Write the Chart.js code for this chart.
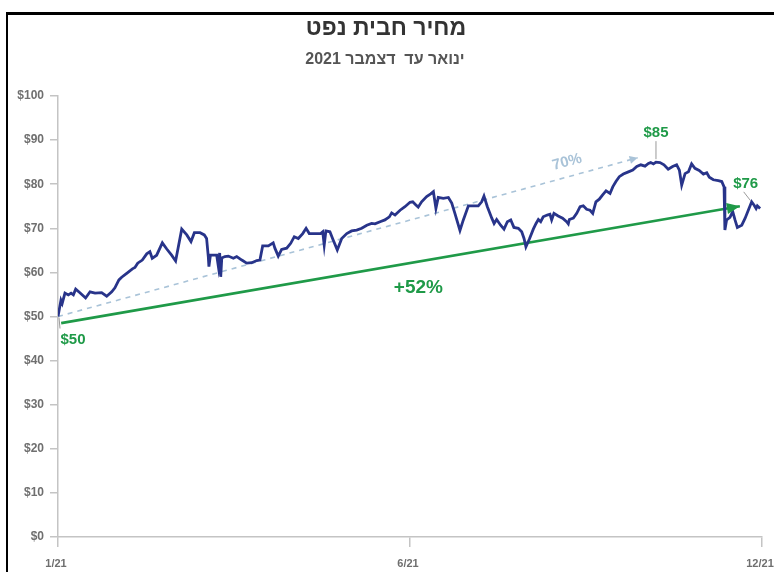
<!DOCTYPE html>
<html lang="he">
<head>
<meta charset="utf-8">
<title>מחיר חבית נפט</title>
<script src="https://cdn.jsdelivr.net/npm/chart.js@4.4.1/dist/chart.umd.min.js"></script>
<style>
	html, body { margin: 0; padding: 0; background: #fff; overflow: hidden; }
	#wrap { position: relative; width: 774px; height: 572px; }
	#wrap canvas { position: absolute; left: 0; top: 0; }
	/* black frame, top and left edges only */
	#frame { position: absolute; left: 6px; top: 12px; right: -10px; bottom: -10px;
		border-top: 3px solid #000; border-left: 2px solid #000; pointer-events: none; }
</style>
</head>
<body>
<div id="wrap">
	<canvas id="oilChart" width="774" height="572"></canvas>
	<div id="frame"></div>
</div>
<script>
var titleText = 'מחיר חבית נפט';
var subtitleText = 'ינואר עד  דצמבר 2021';

// days since 1/1/21, price per barrel ($)
var days = [
	0, 1.4, 2.0, 3.3, 4.9, 6.2, 7.3, 8.4, 10.4, 13.1,
	15.2, 17.6, 20.7, 23.1, 25.5, 27.0, 28.9, 30.2, 32.6, 35.3,
	36.5, 37.8, 40.0, 42.1, 43.6, 44.7, 46.8, 49.5, 51.6, 53.9,
	55.8, 57.1, 58.7, 61.1, 63.1, 64.7, 67.4, 69.4, 70.5, 71.3,
	71.6, 72.3, 75.3, 76.1, 76.7, 77.2, 77.7, 79.2, 80.8, 83.2,
	84.8, 87.2, 89.5, 91.9, 94.3, 95.8, 97.1, 99.8, 102.1, 102.9,
	104.5, 106.1, 108.5, 110.4, 112.1, 114.0, 116.1, 117.7, 119.2, 121.9,
	124.6, 125.6, 126.3, 127.1, 129.0, 130.6, 132.5, 134.6, 137.0, 139.3,
	141.7, 144.1, 146.5, 148.8, 150.4, 152.8, 155.1, 157.2, 158.3, 159.9,
	162.3, 164.6, 167.0, 168.3, 169.8,
	170.9, 172.5, 174.9, 176.8, 178.1, 179.3, 180.4, 182.8, 185.2, 186.8,
	188.3, 190.7, 192.3, 194.7, 197.0, 199.4, 201.0, 202.1, 203.7, 205.8,
	206.9, 208.1, 210.0, 211.6, 213.2, 214.8, 216.3, 218.4, 220.0, 221.1,
	222.0, 223.6, 225.5, 226.8, 227.9, 229.0, 230.2, 232.1, 233.4, 234.2,
	235.3, 237.3, 239.4, 241.3, 242.1, 242.6, 244.5, 246.1, 247.7, 249.2,
	250.8, 252.4,
	253.7, 255.2, 256.8, 258.4, 260.0, 261.9, 263.2, 264.7, 266.3, 268.2,
	270.6, 272.7, 274.6, 276.5, 278.5, 280.1, 281.2, 282.5, 283.7, 285.6,
	287.5, 289.5, 291.6, 293.5, 294.8, 295.9, 297.5, 299.1, 300.6, 302.2,
	304.2, 306.2, 307.8, 309.0, 310.9, 313.3, 314.9, 316.0, 316.4, 317.2,
	318.8, 320.1, 321.2, 322.3, 324.4, 326.0, 327.5, 329.1, 330.2, 331.2,
	331.8, 333.1
];
var prices = [
	50.0, 53.7, 53.0, 55.3, 54.9, 55.3, 54.9, 56.2, 55.4, 54.2,
	55.6, 55.3, 55.4, 54.6, 55.6, 56.5, 58.3, 58.9, 59.8, 60.8,
	61.1, 62.1, 62.8, 64.2, 64.7, 63.2, 63.9, 66.7, 65.3, 63.9,
	62.6, 65.8, 69.8, 68.5, 67.0, 69.0, 69.0, 68.5, 67.7, 63.6,
	61.3, 63.9, 63.9, 61.3, 64.4, 59.0, 63.3, 63.6, 63.7, 63.2,
	63.6, 62.8, 62.1, 62.2, 62.7, 62.8, 66.0, 66.0, 66.7, 65.5,
	63.7, 65.2, 65.5, 66.6, 68.1, 67.7, 68.8, 70.0, 68.8, 68.8,
	68.8, 69.2, 66.2, 69.4, 69.2, 67.3, 65.1, 67.7, 68.8, 69.4,
	69.6, 70.0, 70.7, 71.1, 71.0, 71.5, 71.9, 72.6, 73.5, 73.0,
	74.1, 74.9, 75.9, 76.0, 75.3,
	74.8, 76.0, 77.2, 77.8, 78.3, 74.5, 77.0, 76.8, 77.0, 75.7,
	73.4, 69.5, 71.9, 75.1, 75.1, 75.1, 76.0, 77.3, 74.9, 72.3,
	71.1, 72.0, 70.7, 69.8, 71.5, 71.9, 70.2, 70.0, 69.2, 67.7,
	65.8, 67.5, 69.8, 71.1, 72.0, 71.5, 72.6, 73.0, 73.2, 71.9,
	73.4, 72.8, 72.3, 71.5, 71.0, 72.0, 72.3, 73.4, 74.9, 75.1,
	74.3, 74.1,
	73.4, 76.0, 76.6, 77.6, 78.5, 77.9, 79.4, 80.6, 81.7, 82.3,
	82.8, 83.2, 84.0, 84.4, 84.1, 84.7, 84.9, 84.6, 85.0, 84.9,
	84.4, 83.4, 84.0, 84.4, 83.2, 79.8, 82.4, 82.8, 84.6, 83.6,
	83.1, 82.3, 82.6, 81.6, 81.0, 80.8, 80.6, 79.4, 69.6, 71.9,
	72.5, 73.8, 71.9, 70.2, 70.7, 72.3, 74.1, 76.0, 75.3, 74.5,
	75.1, 74.5
];

var xTickDays = [0, 167, 334];
var xTickLabels = ['1/21', '6/21', '12/21'];

// 50 -> 85 run (dashed) and 50 -> 76 overall change (green)
var peakRunDays = [0, 275];
var peakRunPrices = [50, 86];
var yearChangeDays = [1.5, 323.5];
var yearChangePrices = [48.5, 75];
var changeLabels = ['70%', '+52%'];

// price callouts
var calloutLabels = ['$50', '$85', '$76'];
var calloutDays = [0, 283.7, 329.1];
var calloutPrices = [50, 85, 76];

var GREEN = '#1f9a48';
var NAVY = '#28348a';
var PALE = '#a9c3d8';
var AXIS = '#c4c4c4';
var TEXT = '#6f6f6f';
var FONT = "'Liberation Sans', Arial, sans-serif";

function toXY(xs, ys) {
	return xs.map(function(x, i) { return { x: x, y: ys[i] }; });
}

function drawArrowHead(ctx, meta, color, len, half) {
	var pts = meta.data;
	var a = pts[pts.length - 2], b = pts[pts.length - 1];
	var ang = Math.atan2(b.y - a.y, b.x - a.x);
	ctx.save();
	ctx.translate(b.x, b.y);
	ctx.rotate(ang);
	ctx.fillStyle = color;
	ctx.beginPath();
	ctx.moveTo(0, 0);
	ctx.lineTo(-len, -half);
	ctx.lineTo(-len, half);
	ctx.closePath();
	ctx.fill();
	ctx.restore();
}

var annotations = {
	id: 'oilAnnotations',
	afterDatasetsDraw: function(chart) {
		var ctx = chart.ctx;
		var xs = chart.scales.x, ys = chart.scales.y;
		drawArrowHead(ctx, chart.getDatasetMeta(2), PALE, 8, 4);
		drawArrowHead(ctx, chart.getDatasetMeta(1), GREEN, 13, 5.5);

		ctx.save();
		// "70%" sits above the dashed run, turned to its slope
		var d = chart.getDatasetMeta(2).data;
		var ang = Math.atan2(d[1].y - d[0].y, d[1].x - d[0].x);
		var lx = 241.5;
		var ly = peakRunPrices[0] + (peakRunPrices[1] - peakRunPrices[0]) * lx / peakRunDays[1];
		ctx.translate(xs.getPixelForValue(lx), ys.getPixelForValue(ly) - 15);
		ctx.rotate(ang);
		ctx.fillStyle = PALE;
		ctx.font = 'bold 15px ' + FONT;
		ctx.textAlign = 'center';
		ctx.textBaseline = 'middle';
		ctx.fillText(changeLabels[0], 0, 0);
		ctx.restore();

		ctx.save();
		ctx.fillStyle = GREEN;
		ctx.font = 'bold 19px ' + FONT;
		ctx.textAlign = 'center';
		ctx.textBaseline = 'middle';
		ctx.fillText(changeLabels[1], xs.getPixelForValue(171), ys.getPixelForValue(62.2) + 25);

		// callouts with thin grey leaders
		var offs = [[15, 23], [0, -29], [-6, -18]];
		var leads = [[[1, 1], [2, 12]], [[0, -3], [0, -21]], [[-1, -1], [-8, -10]]];
		ctx.font = 'bold 15px ' + FONT;
		for (var i = 0; i < calloutLabels.length; i++) {
			var px = xs.getPixelForValue(calloutDays[i]);
			var py = ys.getPixelForValue(calloutPrices[i]);
			ctx.strokeStyle = '#9a9a9a';
			ctx.lineWidth = 1;
			ctx.beginPath();
			ctx.moveTo(px + leads[i][0][0], py + leads[i][0][1]);
			ctx.lineTo(px + leads[i][1][0], py + leads[i][1][1]);
			ctx.stroke();
			ctx.fillStyle = GREEN;
			ctx.fillText(calloutLabels[i], px + offs[i][0], py + offs[i][1]);
		}
		ctx.restore();
	},
	afterDraw: function(chart) {
		var ctx = chart.ctx;
		ctx.save();
		ctx.direction = 'rtl';
		ctx.textAlign = 'center';
		ctx.textBaseline = 'alphabetic';
		ctx.fillStyle = '#333';
		ctx.font = 'bold 23px ' + FONT;
		ctx.fillText(titleText, 386, 35);
		ctx.fillStyle = '#555';
		ctx.font = 'bold 16px ' + FONT;
		ctx.fillText(subtitleText, 385, 64);
		ctx.restore();
	}
};

var ctx = document.getElementById('oilChart').getContext('2d');
var oilChart = new Chart(ctx, {
	type: 'line',
	data: {
		datasets: [
			{ data: toXY(days, prices), borderColor: NAVY, borderWidth: 2.8, pointRadius: 0, tension: 0, order: 1 },
			{ data: toXY(yearChangeDays, yearChangePrices), borderColor: GREEN, borderWidth: 2.6, pointRadius: 0, order: 2 },
			{ data: toXY(peakRunDays, peakRunPrices), borderColor: PALE, borderWidth: 1.6, borderDash: [5, 5], pointRadius: 0, order: 3 }
		]
	},
	options: {
		animation: false,
		responsive: false,
		devicePixelRatio: 1,
		events: [],
		layout: { padding: { top: 96, right: 12, left: 0, bottom: 0 } },
		plugins: { legend: { display: false }, tooltip: { enabled: false } },
		scales: {
			x: {
				type: 'linear',
				min: 0,
				max: 334,
				afterBuildTicks: function(axis) {
					axis.ticks = xTickDays.map(function(v) { return { value: v }; });
				},
				afterFit: function(scale) {
					scale.height = 35;
					scale.paddingLeft = 0;
					scale.paddingRight = 0;
				},
				border: { display: true, color: AXIS, width: 1.5 },
				grid: { drawOnChartArea: false, drawTicks: true, tickLength: 10, color: AXIS, lineWidth: 1.5 },
				ticks: {
					autoSkip: false,
					maxRotation: 0,
					padding: 10,
					labelOffset: -2,
					color: TEXT,
					font: { family: FONT, size: 11, weight: 'bold' },
					callback: function(value, index) { return xTickLabels[index]; }
				}
			},
			y: {
				min: 0,
				max: 100,
				afterFit: function(scale) {
					scale.width = 58;
					scale.paddingTop = 0;
					scale.paddingBottom = 0;
				},
				border: { display: true, color: AXIS, width: 1.5 },
				grid: { drawOnChartArea: false, drawTicks: true, tickLength: 8, color: AXIS, lineWidth: 1.5 },
				ticks: {
					stepSize: 10,
					padding: 6,
					color: TEXT,
					font: { family: FONT, size: 12, weight: 'bold' },
					callback: function(value) { return '$' + value; }
				}
			}
		}
	},
	plugins: [annotations]
});
</script>
</body>
</html>
